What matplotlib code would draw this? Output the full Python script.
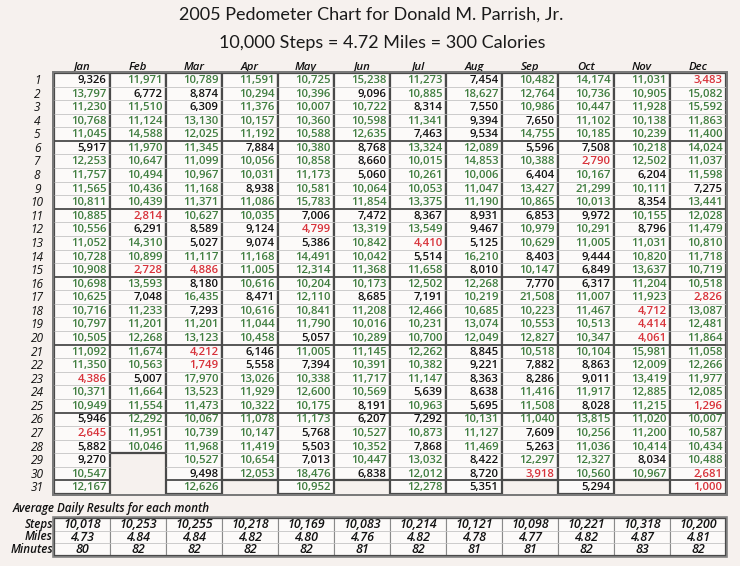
import numpy as np
import matplotlib.pyplot as plt
from matplotlib.patches import Rectangle

months = ['Jan', 'Feb', 'Mar', 'Apr', 'May', 'Jun',
          'Jul', 'Aug', 'Sep', 'Oct', 'Nov', 'Dec']

jan = [9326, 13797, 11230, 10768, 11045, 5917, 12253, 11757, 11565, 10811,
       10885, 10556, 11052, 10728, 10908, 10698, 10625, 10716, 10797, 10505,
       11092, 11350, 4386, 10371, 10949, 5946, 2645, 5882, 9270, 10547, 12167]
feb = [11971, 6772, 11510, 11124, 14588, 11970, 10647, 10494, 10436, 10439,
       2814, 6291, 14310, 10899, 2728, 13593, 7048, 11233, 11201, 12268,
       11674, 10563, 5007, 11664, 11554, 12292, 11951, 10046]
mar = [10789, 8874, 6309, 13130, 12025, 11345, 11099, 10967, 11168, 11371,
       10627, 8589, 5027, 11117, 4886, 8180, 16435, 7293, 11201, 13123,
       4212, 1749, 17970, 13523, 11473, 10067, 10739, 11968, 10527, 9498, 12626]
apr = [11591, 10294, 11376, 10157, 11192, 7884, 10056, 10031, 8938, 11086,
       10035, 9124, 9074, 11168, 11005, 10616, 8471, 10616, 11044, 10458,
       6146, 5558, 13026, 11929, 10322, 11078, 10147, 11419, 10654, 12053]
may = [10725, 10396, 10007, 10360, 10588, 10380, 10858, 11173, 10581, 15783,
       7006, 4799, 5386, 14491, 12314, 10204, 12110, 10841, 11790, 5057,
       11005, 7394, 10338, 12600, 10175, 11173, 5768, 5503, 7013, 18476, 10952]
jun = [15238, 9096, 10722, 10598, 12635, 8768, 8660, 5060, 10064, 11854,
       7472, 13319, 10842, 10042, 11368, 10173, 8685, 11208, 10016, 10289,
       11145, 10391, 11717, 10569, 8191, 6207, 10527, 10352, 10447, 6838]
jul = [11273, 10885, 8314, 11341, 7463, 13324, 10015, 10261, 10053, 13375,
       8367, 13549, 4410, 5514, 11658, 12502, 7191, 12466, 10231, 10700,
       12262, 10382, 11147, 5639, 10963, 7292, 10873, 7868, 13032, 12012, 12278]
aug = [7454, 18627, 7550, 9394, 9534, 12089, 14853, 10006, 11047, 11190,
       8931, 9467, 5125, 16210, 8010, 12268, 10219, 10685, 13074, 12049,
       8845, 9221, 8363, 8638, 5695, 10131, 11127, 11469, 8422, 8720, 5351]
sep = [10482, 12764, 10986, 7650, 14755, 5596, 10388, 6404, 13427, 10865,
       6853, 10979, 10629, 8403, 10147, 7770, 21508, 10223, 10553, 12827,
       10518, 7882, 8286, 11416, 11508, 11040, 7609, 5263, 12297, 3918]
oct_ = [14174, 10736, 10447, 11102, 10185, 7508, 2790, 10167, 21299, 10013,
        9972, 10291, 11005, 9444, 6849, 6317, 11007, 11467, 10513, 10347,
        10104, 8863, 9011, 11917, 8028, 13815, 10256, 11036, 12327, 10560, 5294]
nov = [11031, 10905, 11928, 10138, 10239, 10218, 12502, 6204, 10111, 8354,
       10155, 8796, 11031, 10820, 13637, 11204, 11923, 4712, 4414, 4061,
       15981, 12009, 13419, 12885, 11215, 11020, 11200, 10414, 8034, 10967]
dec = [3483, 15082, 15592, 11863, 11400, 14024, 11037, 11598, 7275, 13441,
       12028, 11479, 10810, 11718, 10719, 10518, 2826, 13087, 12481, 11864,
       11058, 12266, 11977, 12085, 1296, 10007, 10587, 10434, 10488, 2681, 1000]

steps = [jan, feb, mar, apr, may, jun, jul, aug, sep, oct_, nov, dec]

avg_steps = [10018, 10253, 10255, 10218, 10169, 10083,
             10214, 10121, 10098, 10221, 10318, 10200]
avg_miles = [4.73, 4.84, 4.84, 4.82, 4.80, 4.76,
             4.82, 4.78, 4.77, 4.82, 4.87, 4.81]
avg_minutes = [80, 82, 82, 82, 82, 81, 82, 81, 81, 82, 83, 82]
avg_labels = ['Steps', 'Miles', 'Minutes']

plt.rcParams['font.family'] = ['Open Sans', 'DejaVu Sans']

bg = '#f6f1ee'
cell = '#fcfaf9'
dark = '#4a4a4a'
green = '#3f7d3f'
red = '#d8323a'
black = '#111111'


def num_color(v):
    if v >= 10000:
        return green
    if v < 5000:
        return red
    return black


fig = plt.figure(figsize=(7.4, 5.66), dpi=100)
fig.patch.set_facecolor(bg)

fig.text(371 / 740, 1 - 19.5 / 566, '2005 Pedometer Chart for Donald M. Parrish, Jr.',
         ha='center', va='baseline', fontsize=13.0,
         family=['Lato', 'DejaVu Sans'], color='#1a1a1a')
fig.text(382 / 740, 1 - 48 / 566, '10,000 Steps = 4.72 Miles = 300 Calories',
         ha='center', va='baseline', fontsize=13.0,
         family=['Lato', 'DejaVu Sans'], color='#1a1a1a')

# main table
ax = fig.add_axes([54 / 740, 1 - 494 / 566, 672 / 740, 421 / 566])
ax.set_xlim(0, 12)
ax.set_ylim(31, 0)
ax.axis('off')

ndays = [len(s) for s in steps]
ax.bar(np.arange(12), ndays, width=1, align='edge', color=cell,
       edgecolor=dark, linewidth=1.6, zorder=1)

for j, col in enumerate(steps):
    n = len(col)
    for i in range(1, n):
        major = (i % 5 == 0)
        ax.hlines(i, j, j + 1, color=dark if major else '#c4c4c4',
                  lw=1.3 if major else 0.6, zorder=2)
    for i, v in enumerate(col):
        ax.text(j + 1 - 0.06, i + 0.55, f'{v:,}', ha='right', va='center',
                fontsize=8.2, fontweight='semibold', color=num_color(v), zorder=3)
    ax.text(j + 0.5, -0.4, months[j], ha='center', va='center', fontsize=8.2,
            fontstyle='italic', fontweight='semibold', color='#111', clip_on=False)

for i in range(31):
    ax.text(-0.30, i + 0.55, str(i + 1), ha='center', va='center', fontsize=8.6,
            fontstyle='italic', color='#111', clip_on=False)

ax.add_patch(Rectangle((-0.015, -0.1), 12.03, 31.2, fill=False, edgecolor='#777777',
                       lw=1.4, zorder=4, clip_on=False))

# averages table
ax2 = fig.add_axes([54 / 740, 1 - 556 / 566, 672 / 740, 38 / 566])
ax2.set_xlim(0, 12)
ax2.set_ylim(3, 0)
ax2.axis('off')
ax2.bar(np.arange(12), [3] * 12, width=1, align='edge', color=cell,
        edgecolor='#8a8a8a', linewidth=0.8, zorder=1)
ax2.hlines([1, 2], 0, 12, color='#c4c4c4', lw=0.6, zorder=2)
ax2.add_patch(Rectangle((0, 0), 12, 3, fill=False, edgecolor=dark, lw=1.6,
                        zorder=4, clip_on=False))
ax2.add_patch(Rectangle((-0.015, -0.08), 12.03, 3.16, fill=False, edgecolor='#888888',
                        lw=1.2, zorder=4, clip_on=False))

ax2.text(-0.73, -0.75, 'Average Daily Results for each month', ha='left', va='center',
         fontsize=8.4, fontstyle='italic', fontweight='semibold', color='#111', clip_on=False)

rows = [[f'{v:,}' for v in avg_steps],
        [f'{v:.2f}' for v in avg_miles],
        [str(v) for v in avg_minutes]]
for r, vals in enumerate(rows):
    ax2.text(-0.02, r + 0.5, avg_labels[r], ha='right', va='center', fontsize=8.4,
             fontstyle='italic', fontweight='semibold', color='#111', clip_on=False)
    for j, s in enumerate(vals):
        ax2.text(j + 0.5, r + 0.52, s, ha='center', va='center', fontsize=9,
                 fontstyle='italic', fontweight='semibold', color='#111', zorder=3)

fig.savefig('out.png', dpi=100, facecolor=bg)
